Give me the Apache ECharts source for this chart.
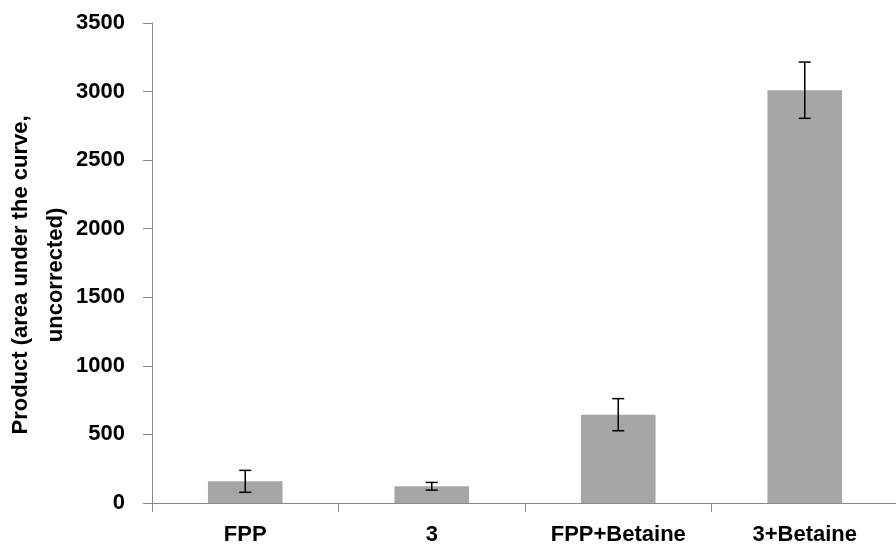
<!DOCTYPE html>
<html>
<head>
    <meta charset="UTF-8">
    <title>Product bar chart</title>
</head>
<body style="margin:0;">
    <div id="container" style="width: 896px;height: 548px;"></div>
    <script src="https://cdn.jsdelivr.net/npm/echarts@6/dist/echarts.min.js"></script>
    <script type="text/javascript">
        // 数据
        var categories = ['FPP', '3', 'FPP+Betaine', '3+Betaine'];
        var values = [158, 122, 644, 3010];
        var errors = [80, 28, 117, 205];

        var errorData = categories.map(function (c, i) {
            return [i, values[i] - errors[i], values[i] + errors[i]];
        });

        var myChart = echarts.init(document.getElementById('container'));
        var font = 'Liberation Sans';
        var axisColor = '#898989';
        var option = {
            animation: false,
            grid: {
                left: 152,
                top: 23,
                width: 746,
                height: 480,
                containLabel: false,
                outerBoundsMode: 'none'
            },
            xAxis: {
                type: 'category',
                data: categories,
                axisLine: { lineStyle: { color: axisColor, width: 1 } },
                axisTick: { show: true, length: 9, lineStyle: { color: axisColor } },
                axisLabel: {
                    color: '#000',
                    fontFamily: font,
                    fontWeight: 'bold',
                    fontSize: 22,
                    margin: 21
                }
            },
            yAxis: {
                type: 'value',
                min: 0,
                max: 3500,
                interval: 500,
                name: 'Product (area under the curve,\nuncorrected)',
                nameLocation: 'middle',
                nameGap: 79,
                nameMoveOverlap: false,
                nameTextStyle: {
                    color: '#000',
                    fontFamily: font,
                    fontWeight: 'bold',
                    fontSize: 22,
                    lineHeight: 35,
                    padding: [0, 24, 0, 0]
                },
                splitLine: { show: false },
                axisLine: { show: true, lineStyle: { color: axisColor, width: 1 } },
                axisTick: { show: true, length: 9, lineStyle: { color: axisColor } },
                axisLabel: {
                    color: '#000',
                    fontFamily: font,
                    fontWeight: 'bold',
                    fontSize: 22,
                    margin: 27,
                    formatter: function (v) { return String(v); }
                }
            },
            series: [{
                type: 'bar',
                data: values,
                barWidth: '40%',
                itemStyle: { color: '#a6a6a6' }
            }, {
                type: 'custom',
                data: errorData,
                z: 10,
                renderItem: function (params, api) {
                    var lo = api.coord([api.value(0), api.value(1)]);
                    var hi = api.coord([api.value(0), api.value(2)]);
                    var hw = 6;
                    var st = { stroke: '#000', lineWidth: 1.5 };
                    return {
                        type: 'group',
                        children: [
                            { type: 'line', shape: { x1: hi[0], y1: hi[1], x2: lo[0], y2: lo[1] }, style: st },
                            { type: 'line', shape: { x1: hi[0] - hw, y1: hi[1], x2: hi[0] + hw, y2: hi[1] }, style: st },
                            { type: 'line', shape: { x1: lo[0] - hw, y1: lo[1], x2: lo[0] + hw, y2: lo[1] }, style: st }
                        ]
                    };
                }
            }]
        };
        myChart.setOption(option);
    </script>
</body>
</html>
